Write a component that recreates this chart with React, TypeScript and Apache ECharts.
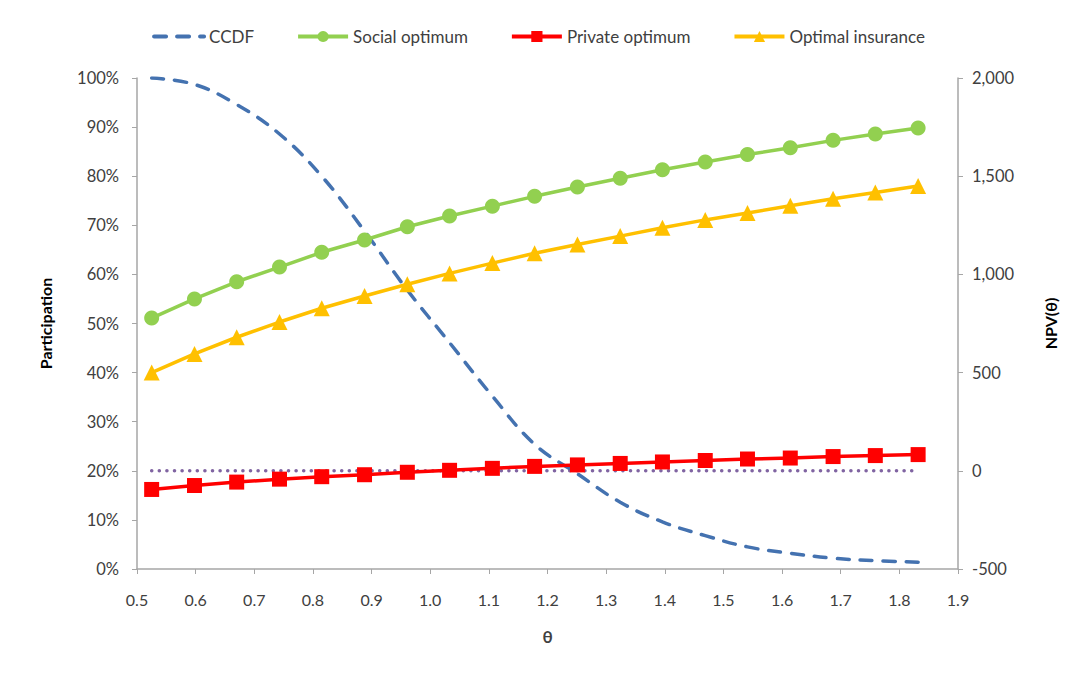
import React, { useEffect, useRef } from "react";
import * as echarts from "echarts";

const thetaValues = [0.525, 0.598, 0.670, 0.743, 0.815, 0.888, 0.961, 1.033, 1.106, 1.178, 1.251, 1.324, 1.396, 1.469, 1.541, 1.614, 1.687, 1.759, 1.832];
const ccdf = [1.0, 0.987, 0.946, 0.886, 0.80, 0.688, 0.568, 0.461, 0.352, 0.254, 0.194, 0.136, 0.096, 0.068, 0.045, 0.032, 0.022, 0.017, 0.014];
const socialOptimum = [0.511, 0.55, 0.585, 0.615, 0.645, 0.67, 0.697, 0.719, 0.739, 0.759, 0.778, 0.796, 0.813, 0.829, 0.844, 0.858, 0.873, 0.886, 0.898];
const privateOptimum = [0.162, 0.17, 0.177, 0.183, 0.188, 0.192, 0.197, 0.201, 0.205, 0.209, 0.212, 0.215, 0.218, 0.221, 0.224, 0.226, 0.229, 0.231, 0.233];
const optimalInsurance = [0.40, 0.438, 0.472, 0.503, 0.531, 0.556, 0.58, 0.602, 0.623, 0.643, 0.661, 0.678, 0.695, 0.711, 0.725, 0.74, 0.754, 0.767, 0.78];
const npvZero = [0, 0, 0, 0, 0, 0, 0, 0, 0, 0, 0, 0, 0, 0, 0, 0, 0, 0, 0];

const FONT = "Lato, 'Liberation Sans', sans-serif";
const TXT = "#404040";

const pairs = (ys: number[]) => ys.map((y, i) => [thetaValues[i], y]);

export default function App() {
  const ref = useRef<HTMLDivElement>(null);
  useEffect(() => {
    if (!ref.current) return;
    const chart = echarts.init(ref.current, null, { renderer: "svg" });
    const axisLine = { show: true, lineStyle: { color: "#A6A6A6", width: 1.5 } };
    const axisTick = { show: true, inside: false, length: 5, lineStyle: { color: "#A6A6A6" } };
    chart.setOption({
      animation: false,
      backgroundColor: "#fff",
      textStyle: { fontFamily: FONT },
      legend: {
        data: [
          { name: "CCDF", itemStyle: { color: "rgba(0,0,0,0)", borderWidth: 0 } },
          "Social optimum",
          "Private optimum",
          "Optimal insurance",
        ],
        top: 23,
        left: "center",
        itemWidth: 50,
        itemHeight: 14,
        itemGap: 42,
        lineStyle: { width: 4 },
        textStyle: { fontFamily: FONT, fontSize: 17, color: TXT },
      },
      grid: { left: 137, right: 119, top: 78, bottom: 104, containLabel: false },
      xAxis: {
        type: "value",
        min: 0.5,
        max: 1.9,
        interval: 0.1,
        name: "θ",
        nameLocation: "middle",
        nameGap: 59,
        nameTextStyle: { fontFamily: FONT, fontSize: 17, color: TXT, fontWeight: "bold" },
        axisLine,
        axisTick,
        splitLine: { show: false },
        axisLabel: {
          margin: 22,
          fontSize: 16,
          color: TXT,
          fontFamily: FONT,
          formatter: (v: number) => v.toFixed(1),
        },
      },
      yAxis: [
        {
          type: "value",
          min: 0,
          max: 1,
          interval: 0.1,
          position: "left",
          name: "Participation",
          nameLocation: "middle",
          nameRotate: 90,
          nameGap: 84,
          nameTextStyle: { fontFamily: FONT, fontSize: 16, color: "#000", fontWeight: "bold" },
          axisLine,
          axisTick,
          splitLine: { show: false },
          axisLabel: {
            margin: 18,
            fontSize: 16.5,
            color: TXT,
            fontFamily: FONT,
            formatter: (v: number) => Math.round(v * 100) + "%",
          },
        },
        {
          type: "value",
          min: -500,
          max: 2000,
          interval: 500,
          position: "right",
          name: "NPV(θ)",
          nameLocation: "middle",
          nameRotate: 90,
          nameGap: 84,
          nameTextStyle: { fontFamily: FONT, fontSize: 16, color: "#000", fontWeight: "bold" },
          axisLine,
          axisTick,
          splitLine: { show: false },
          axisLabel: {
            margin: 14,
            fontSize: 16.5,
            color: TXT,
            fontFamily: FONT,
            formatter: (v: number) => v.toLocaleString("en-US"),
          },
        },
      ],
      series: [
        {
          name: "NPV zero",
          type: "line",
          yAxisIndex: 1,
          data: pairs(npvZero),
          symbol: "none",
          lineStyle: { color: "#8064A2", width: 3.5, type: [0.1, 7.5], cap: "round" },
          z: 1,
        },
        {
          name: "CCDF",
          type: "line",
          yAxisIndex: 0,
          data: pairs(ccdf),
          smooth: 0.4,
          symbol: "none",
          itemStyle: { color: "#4472B0" },
          lineStyle: { color: "#4472B0", width: 3.5, type: [12, 11], cap: "round" },
          z: 2,
        },
        {
          name: "Social optimum",
          type: "line",
          yAxisIndex: 0,
          data: pairs(socialOptimum),
          symbol: "circle",
          symbolSize: 15,
          itemStyle: { color: "#92D050" },
          lineStyle: { color: "#92D050", width: 3.5 },
          z: 3,
        },
        {
          name: "Private optimum",
          type: "line",
          yAxisIndex: 0,
          data: pairs(privateOptimum),
          symbol: "rect",
          symbolSize: 15,
          itemStyle: { color: "#FF0000" },
          lineStyle: { color: "#FF0000", width: 3.5 },
          z: 4,
        },
        {
          name: "Optimal insurance",
          type: "line",
          yAxisIndex: 0,
          data: pairs(optimalInsurance),
          symbol: "triangle",
          symbolSize: 16,
          itemStyle: { color: "#FFC000" },
          lineStyle: { color: "#FFC000", width: 3.5 },
          z: 3,
        },
      ],
    });
    return () => chart.dispose();
  }, []);
  return (
    <div style={{ position: "absolute", left: 0, top: 0, width: 1077, height: 673 }}>
      <div
        style={{
          position: "absolute",
          left: 8,
          top: 7,
          width: 1069,
          height: 666,
          border: "1px solid #EFEFEF",
          boxSizing: "border-box",
        }}
      />
      <div ref={ref} style={{ position: "absolute", left: 0, top: 0, width: 1077, height: 673 }} />
    </div>
  );
}
